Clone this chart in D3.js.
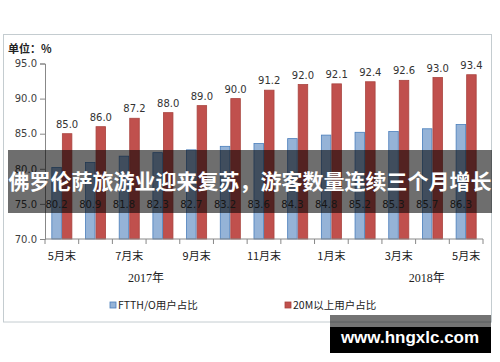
<!DOCTYPE html>
<html>
<head>
<meta charset="utf-8">
<script src="https://cdn.jsdelivr.net/npm/d3@7"></script>
<style>
  body { margin: 0; background: #fff; }
  svg { display: block; }
  .tick text { font-family: "DejaVu Sans", sans-serif; font-size: 10px; fill: #404040; }
</style>
</head>
<body>
<div class="chart-container"></div>
<script>
// Data
const months = ["2017-05","2017-06","2017-07","2017-08","2017-09","2017-10","2017-11","2017-12","2018-01","2018-02","2018-03","2018-04","2018-05"];
const monthLabels = ["5月末","","7月末","","9月末","","11月末","","1月末","","3月末","","5月末"];
const ftth = [80.2, 80.9, 81.8, 82.3, 82.7, 83.2, 83.6, 84.3, 84.8, 85.2, 85.3, 85.7, 86.3];
const over20m = [85.0, 86.0, 87.2, 88.0, 89.0, 90.0, 91.2, 92.0, 92.1, 92.4, 92.6, 93.0, 93.4];
const yTicks = [70, 75, 80, 85, 90, 95];
const seriesNames = ["FTTH/O用户占比", "20M以上用户占比"];

const width = 500, height = 362;
const margin = { top: 63.5, bottom: 123, left: 45, right: 17 };
const cjk = '"Noto Sans CJK SC", sans-serif';

let svg = d3.select('.chart-container').append('svg')
  .attr("width", width).attr("height", height);

// outer frame
svg.append("rect")
  .attr("x", 3.5).attr("y", 34.5).attr("width", 488).attr("height", 287.5)
  .attr("fill", "none").attr("stroke", "#c4ccd0");

// Scales
const x = d3.scaleBand()
  .domain(months)
  .range([margin.left, width - margin.right]);
const xs = d3.scaleBand()
  .domain(["ftth", "m20"])
  .range([0, x.bandwidth()])
  .paddingOuter(0.6);
const y = d3.scaleLinear()
  .domain([70, 95])
  .range([height - margin.bottom, margin.top]);
const color = { ftth: "#95b3d7", m20: "#c0504d" };
const stroke = { ftth: "#4a7ebb", m20: "#a9443f" };

const rows = months.map((m, i) => ({ m, ftth: ftth[i], m20: over20m[i] }));

// unit label
svg.append("text")
  .attr("x", 8).attr("y", 53)
  .style("font-family", cjk).style("font-size", "11px").style("font-weight", "bold")
  .attr("fill", "#222")
  .text("单位：%");

// y axis
svg.append("g")
  .attr("transform", `translate(${margin.left},0)`)
  .call(d3.axisLeft(y).tickValues(yTicks).tickFormat(d3.format(".1f")).tickSize(5).tickPadding(3))
  .call(g => g.select(".domain").attr("stroke", "#888"))
  .call(g => g.selectAll(".tick line").attr("stroke", "#888"));

// bars
const groups = svg.selectAll(".month")
  .data(rows)
  .enter().append("g")
  .attr("transform", d => `translate(${x(d.m)},0)`);

groups.selectAll("rect")
  .data(d => ["ftth", "m20"].map(k => ({ k, v: d[k] })))
  .enter().append("rect")
  .attr("x", d => xs(d.k) + 0.5)
  .attr("width", xs.bandwidth() - 1)
  .attr("y", d => y(d.v))
  .attr("height", d => y(70) - y(d.v))
  .attr("fill", d => color[d.k])
  .attr("stroke", d => stroke[d.k])
  .attr("stroke-width", 0.8);

// red value labels
groups.append("text")
  .attr("x", xs("m20") + xs.bandwidth() / 2)
  .attr("y", d => y(d.m20) - 6)
  .attr("text-anchor", "middle")
  .style("font-family", '"DejaVu Sans", sans-serif').style("font-size", "10px")
  .attr("fill", "#333")
  .text(d => d.m20.toFixed(1));

// blue value labels (low in the bar)
groups.append("text")
  .attr("x", xs("ftth") + xs.bandwidth() / 2)
  .attr("y", y(75) + 4)
  .attr("text-anchor", "middle")
  .style("font-family", '"DejaVu Sans", sans-serif').style("font-size", "10px")
  .attr("fill", "#333")
  .text(d => d.ftth.toFixed(1));

// x axis
const xa = svg.append("g");
xa.append("line")
  .attr("x1", margin.left).attr("x2", width - margin.right)
  .attr("y1", y(70)).attr("y2", y(70))
  .attr("stroke", "#888");
xa.selectAll(".xt")
  .data(months.concat(["end"]))
  .enter().append("line")
  .attr("x1", d => d === "end" ? x.range()[1] : x(d))
  .attr("x2", d => d === "end" ? x.range()[1] : x(d))
  .attr("y1", y(70)).attr("y2", y(70) + 5)
  .attr("stroke", "#888");
xa.selectAll(".xl")
  .data(rows)
  .enter().append("text")
  .attr("x", d => x(d.m) + x.bandwidth() / 2)
  .attr("y", y(70) + 21)
  .attr("text-anchor", "middle")
  .style("font-family", cjk).style("font-size", "11px")
  .attr("fill", "#222")
  .text((d, i) => monthLabels[i]);

// years
function yearText(xPos, str) {
  svg.append("text")
    .attr("x", xPos).attr("y", 282)
    .attr("text-anchor", "middle")
    .style("font-family", '"Liberation Serif", "Noto Sans CJK SC", serif').style("font-size", "12px")
    .attr("fill", "#222")
    .text(str);
}
yearText(x(months[3]), "2017年");
yearText(x(months[11]) + x.bandwidth() / 3, "2018年");

// legend
const legend = svg.append("g");
[["ftth", 110], ["m20", 285]].forEach(([k, lx], i) => {
  legend.append("rect")
    .attr("x", lx).attr("y", 302).attr("width", 6).attr("height", 6)
    .attr("fill", color[k]).attr("stroke", stroke[k]).attr("stroke-width", 0.8);
  legend.append("text")
    .attr("x", lx + 8).attr("y", 309)
    .style("font-family", cjk).style("font-size", "10.5px")
    .attr("fill", "#222")
    .text(seriesNames[i]);
});

// headline banner
svg.append("rect")
  .attr("x", 8).attr("y", 150).attr("width", 484).attr("height", 63)
  .attr("fill", "rgba(0,0,0,0.57)");
svg.append("text")
  .attr("x", 250).attr("y", 189)
  .attr("text-anchor", "middle")
  .style("font-family", cjk).style("font-size", "21px").style("font-weight", "bold")
  .attr("fill", "#fff")
  .text("佛罗伦萨旅游业迎来复苏，游客数量连续三个月增长");

// watermark
svg.append("rect").attr("x", 330).attr("y", 315).attr("width", 161).attr("height", 12).attr("fill", "rgba(0,0,0,0.55)");
svg.append("rect").attr("x", 330).attr("y", 327).attr("width", 161).attr("height", 26).attr("fill", "#000");
svg.append("text")
  .attr("x", 410).attr("y", 343)
  .attr("text-anchor", "middle")
  .style("font-family", '"Liberation Sans", sans-serif').style("font-size", "17px").style("font-weight", "bold")
  .attr("fill", "#fff")
  .text("www.hngxlc.com");
</script>
</body>
</html>
